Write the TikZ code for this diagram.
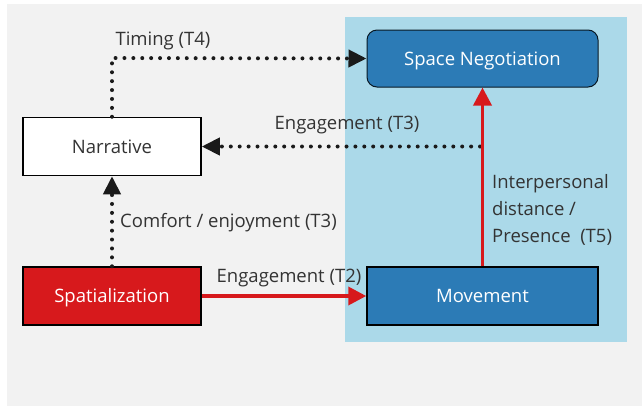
\documentclass[tikz,border=0pt]{standalone}
\usepackage{fontspec}
\setmainfont{Open Sans}
\usetikzlibrary{arrows.meta}
\definecolor{bggrey}{HTML}{F2F2F2}
\definecolor{lblue}{HTML}{ABD9E9}
\definecolor{dblue}{HTML}{2C7BB6}
\definecolor{myred}{HTML}{D7191C}
\definecolor{txt}{HTML}{333333}
\definecolor{dots}{HTML}{1A1A1A}
\tikzset{
  box/.style={draw=black, line width=1.5bp, minimum width=178bp, minimum height=58bp,
    inner sep=0pt, text height=13.2bp, text depth=0pt,
    font=\fontsize{18.5bp}{22bp}\selectfont},
  lbl/.style={text=txt, inner sep=0pt, font=\fontsize{18.5bp}{27bp}\selectfont},
  dotline/.style={draw=dots, line width=4bp, line cap=round, dash pattern=on 0bp off 8.9bp,
    -{Triangle[length=18bp,width=17bp]}},
  redline/.style={draw=myred, line width=3.6bp,
    -{Triangle[length=18bp,width=18bp]}},
}
\begin{document}
\begin{tikzpicture}[x=1bp,y=-1bp]
\useasboundingbox (0,0) rectangle (642,406);
\fill[white] (0,0) rectangle (642,406);
\fill[bggrey] (7,4) rectangle (642,406);
\fill[lblue] (345,17) rectangle (627,342);

\node[box, fill=white, text=txt] (nar) at (112,146.5) {Narrative};
\node[box, fill=myred, text=white] (spa) at (112,296) {Spatialization};
\node[box, fill=dblue, text=white, minimum width=231bp, minimum height=57bp,
  rounded corners=10bp, draw=black!80!dblue, line width=1bp] (neg) at (482.5,58.5) {Space Negotiation};
\node[box, fill=dblue, text=white, minimum width=231bp] (mov) at (482.5,296) {Movement};

\coordinate (c1) at (112,58);
\coordinate (c2) at (480,146.5);

\draw[dotline] (nar.north) -- (c1) -- (neg.west);
\draw[dotline] (c2) -- (nar.east);
\draw[dotline] (spa.north) -- (nar.south);
\draw[redline] (spa.east) -- (mov.west);
\draw[redline] (mov.north) -- (neg.south);

\node[lbl, anchor=base] (t4) at (163,45.5) {Timing (T4)};
\node[lbl, anchor=base] (t3a) at (347,129.5) {Engagement (T3)};
\node[lbl, anchor=base west] (t3b) at (120,227) {Comfort / enjoyment (T3)};
\node[lbl, anchor=base] (t2) at (289,282) {Engagement (T2)};
\node[lbl, anchor=north west, align=left] (t5) at (492,174) {Interpersonal\\distance /\\Presence~ (T5)};
\end{tikzpicture}
\end{document}
